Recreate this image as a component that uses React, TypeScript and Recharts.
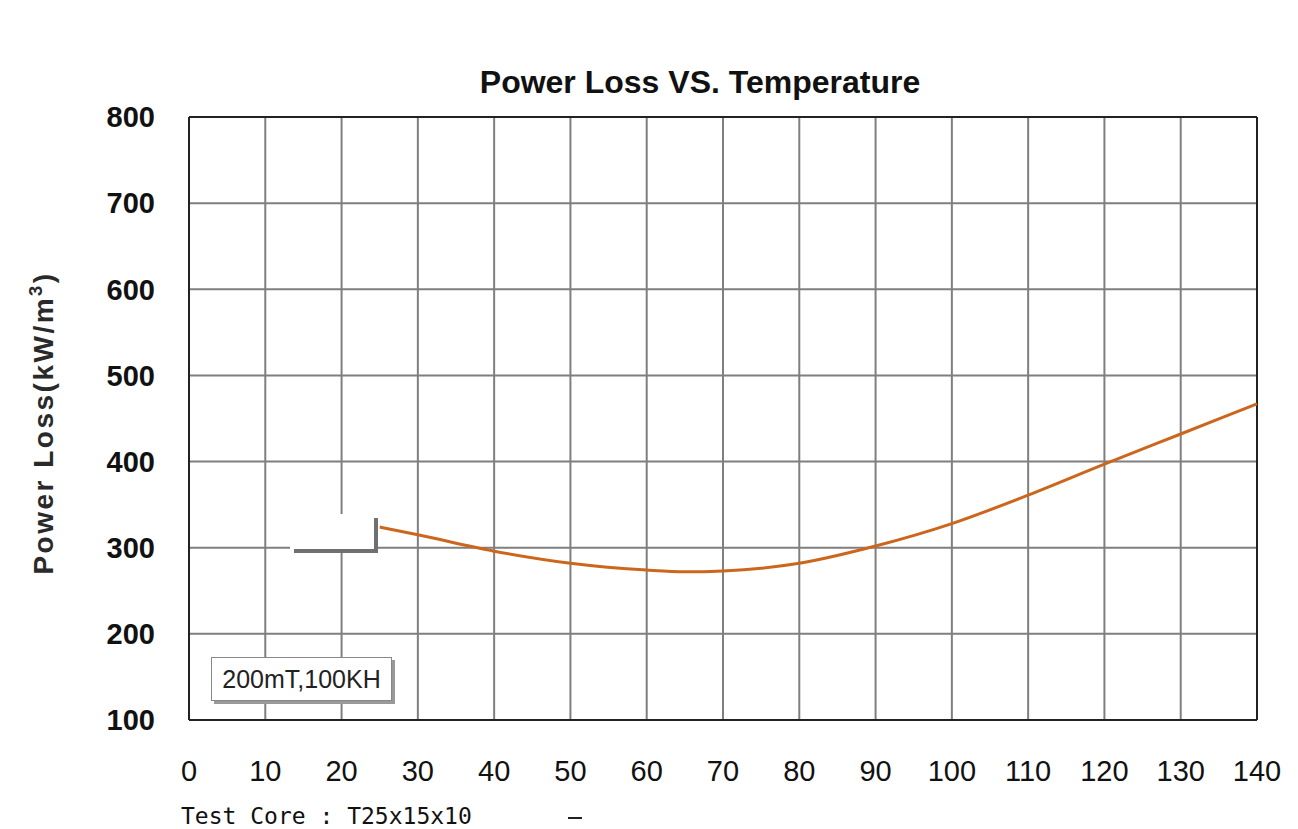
import { LineChart, Line, XAxis, YAxis, CartesianGrid, ReferenceLine } from "recharts";

// temperature (°C) and power loss (kW/m3)
const temps = [25, 30, 40, 50, 60, 65, 70, 80, 90, 100, 110, 120, 130, 140];
const losses = [324, 315, 296, 282, 274, 272, 273, 282, 302, 328, 361, 397, 432, 467];

const xTicks = [0, 10, 20, 30, 40, 50, 60, 70, 80, 90, 100, 110, 120, 130, 140];
const yTicks = [100, 200, 300, 400, 500, 600, 700, 800];

const data = temps.map((t, i) => ({ t, loss: losses[i] }));

const FONT = "'Liberation Sans', Arial, sans-serif";

export default function App() {
  return (
    <div style={{ position: "absolute", left: 0, top: 0, width: 1298, height: 829, background: "#fff", fontFamily: FONT }}>
      <LineChart width={1298} height={829} data={data}
        margin={{ top: 117, right: 41, bottom: 49, left: 40 }}>
        <CartesianGrid stroke="#7f7f7f" strokeWidth={2} horizontalValues={yTicks} verticalValues={xTicks} />
        <XAxis dataKey="t" type="number" domain={[0, 140]} ticks={xTicks} interval={0}
          height={60} tickLine={false} tickMargin={34}
          axisLine={{ stroke: "#222", strokeWidth: 2 }}
          tick={{ fill: "#111", fontSize: 29, fontFamily: FONT }} />
        <YAxis type="number" domain={[100, 800]} ticks={yTicks} interval={0}
          width={149} tickLine={false} tickMargin={28}
          axisLine={{ stroke: "#222", strokeWidth: 2 }}
          tick={{ fill: "#111", fontSize: 29, fontWeight: "bold", fontFamily: FONT }} />
        <ReferenceLine y={800} stroke="#222" strokeWidth={2} />
        <ReferenceLine x={140} stroke="#222" strokeWidth={2} />
        <Line dataKey="loss" type="monotone" stroke="#cc661c" strokeWidth={3} dot={false} isAnimationActive={false} />
      </LineChart>

      {/* title */}
      <div style={{ position: "absolute", left: 350, top: 64, width: 700, textAlign: "center", fontSize: 32, fontWeight: "bold", color: "#111" }}>
        Power Loss VS. Temperature
      </div>

      {/* y axis title */}
      <div style={{ position: "absolute", left: 43, top: 423, transform: "translate(-50%, -50%) rotate(-90deg)", whiteSpace: "nowrap", fontSize: 28, fontWeight: "bold", letterSpacing: 2.5, color: "#2a2a2a" }}>
        Power Loss(kW/m<sup style={{ fontSize: "0.65em" }}>3</sup>)
      </div>

      {/* blank patch over the grid */}
      <div style={{ position: "absolute", left: 290, top: 514, width: 84, height: 35, background: "#fff", boxShadow: "4px 4px 0 #707070" }} />

      {/* condition box */}
      <div style={{ position: "absolute", left: 211, top: 657, width: 181, height: 44, boxSizing: "border-box", border: "1px solid #888", background: "#fff", boxShadow: "3px 3px 0 #999", fontSize: 25, color: "#222", display: "flex", alignItems: "center", justifyContent: "center" }}>
        200mT,100KH
      </div>

      {/* footer */}
      <div style={{ position: "absolute", left: 181, top: 803, fontSize: 23, fontFamily: "'DejaVu Sans Mono', 'Liberation Mono', monospace", color: "#111", whiteSpace: "pre" }}>
        Test Core : T25x15x10
      </div>
      <div style={{ position: "absolute", left: 568, top: 817, width: 14, height: 2, background: "#222" }} />
    </div>
  );
}
